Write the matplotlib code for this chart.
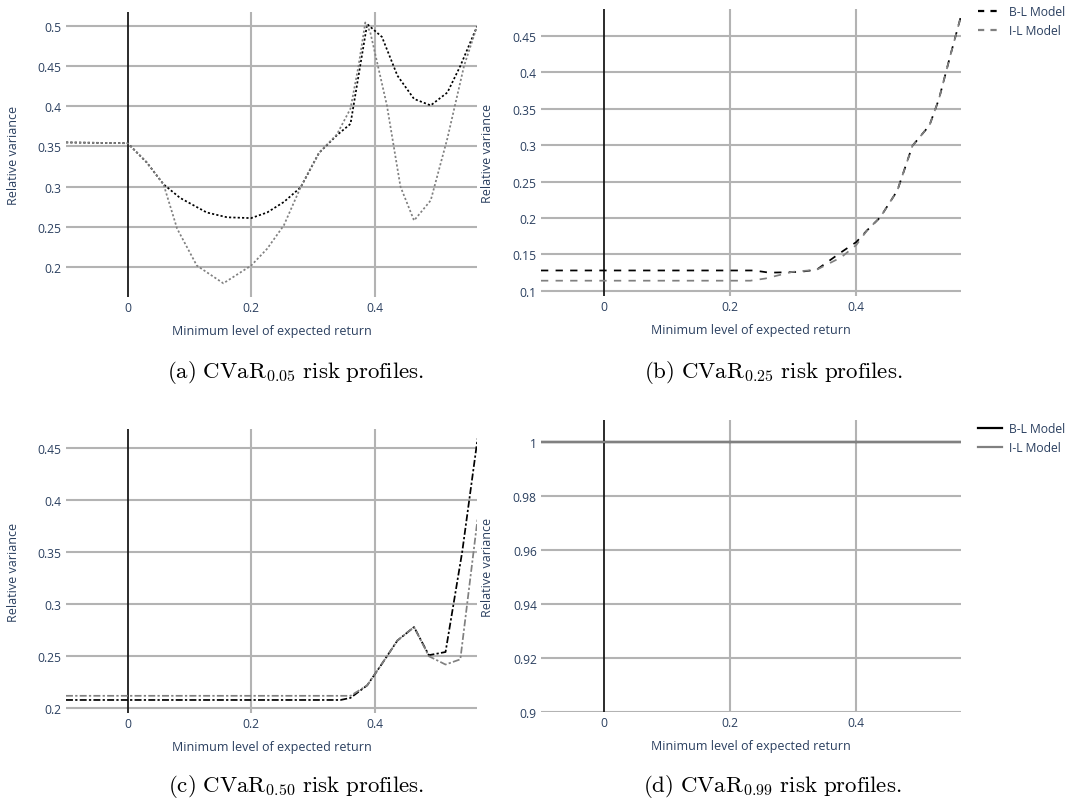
import matplotlib
matplotlib.use("Agg")
import matplotlib.pyplot as plt
from matplotlib.lines import Line2D
from matplotlib.ticker import FuncFormatter

# ---------------- data ----------------
# (a) CVaR 0.05
bl_a_x = [-0.1, 0.0, 0.031, 0.058, 0.085, 0.128, 0.161, 0.2, 0.226, 0.253, 0.28, 0.31, 0.339, 0.361, 0.388, 0.412, 0.437, 0.464, 0.491, 0.518, 0.539, 0.566]
bl_a_y = [0.355, 0.354, 0.33, 0.303, 0.286, 0.268, 0.262, 0.261, 0.268, 0.281, 0.299, 0.342, 0.364, 0.378, 0.502, 0.486, 0.438, 0.409, 0.401, 0.417, 0.45, 0.499]
il_a_x = [-0.1, 0.0, 0.031, 0.058, 0.08, 0.112, 0.155, 0.2, 0.226, 0.253, 0.28, 0.31, 0.339, 0.361, 0.374, 0.385, 0.393, 0.42, 0.442, 0.464, 0.491, 0.518, 0.545, 0.566]
il_a_y = [0.355, 0.354, 0.33, 0.303, 0.248, 0.202, 0.18, 0.202, 0.223, 0.252, 0.299, 0.342, 0.365, 0.397, 0.45, 0.504, 0.492, 0.401, 0.3, 0.258, 0.283, 0.36, 0.45, 0.499]

# (b) CVaR 0.25
bl_b_x = [-0.1, 0.238, 0.262, 0.31, 0.337, 0.376, 0.4, 0.417, 0.438, 0.465, 0.489, 0.516, 0.531, 0.549, 0.566]
bl_b_y = [0.128, 0.128, 0.125, 0.126, 0.129, 0.153, 0.167, 0.183, 0.201, 0.2375, 0.299, 0.327, 0.363, 0.4226, 0.477]
il_b_x = [-0.1, 0.232, 0.256, 0.298, 0.337, 0.376, 0.4, 0.417, 0.438, 0.465, 0.489, 0.516, 0.531, 0.549, 0.566]
il_b_y = [0.114, 0.114, 0.117, 0.126, 0.129, 0.146, 0.163, 0.183, 0.201, 0.2375, 0.299, 0.327, 0.363, 0.4226, 0.477]

# (c) CVaR 0.50
bl_c_x = [-0.1, 0.345, 0.361, 0.388, 0.41, 0.437, 0.464, 0.488, 0.515, 0.542, 0.567]
bl_c_y = [0.208, 0.208, 0.21, 0.222, 0.241, 0.265, 0.278, 0.251, 0.254, 0.35, 0.459]
il_c_x = [-0.1, 0.361, 0.388, 0.41, 0.437, 0.464, 0.488, 0.515, 0.539, 0.567]
il_c_y = [0.212, 0.212, 0.222, 0.241, 0.265, 0.278, 0.25, 0.242, 0.247, 0.382]

# (d) CVaR 0.99
bl_d_x = [-0.1, 0.566]
bl_d_y = [1.0, 1.0]
il_d_x = [-0.1, 0.566]
il_d_y = [1.0, 1.0]

series_names = ["B-L Model", "I-L Model"]
x_ticks = [0, 0.2, 0.4]
y_ticks_a = [0.2, 0.25, 0.3, 0.35, 0.4, 0.45, 0.5]
y_ticks_b = [0.1, 0.15, 0.2, 0.25, 0.3, 0.35, 0.4, 0.45]
y_ticks_c = [0.2, 0.25, 0.3, 0.35, 0.4, 0.45]
y_ticks_d = [0.9, 0.92, 0.94, 0.96, 0.98, 1.0]
captions = [r"$\mathrm{(a)\ CVaR}_{0.05}\mathrm{\ risk\ profiles.}$",
            r"$\mathrm{(b)\ CVaR}_{0.25}\mathrm{\ risk\ profiles.}$",
            r"$\mathrm{(c)\ CVaR}_{0.50}\mathrm{\ risk\ profiles.}$",
            r"$\mathrm{(d)\ CVaR}_{0.99}\mathrm{\ risk\ profiles.}$"]
x_title = "Minimum level of expected return"
y_title = "Relative variance"

# ---------------- style ----------------
plt.rcParams['font.family'] = ['Open Sans', 'DejaVu Sans']
plt.rcParams['mathtext.fontset'] = 'cm'
TXT = '#2a3f5f'
GRID = '#b3b3b3'
BLACK = '#000000'
GREY = '#808080'
LW = 1.25

W, H = 1071, 812
fig = plt.figure(figsize=(W / 100, H / 100), dpi=100)


def make_ax(l, r, t, b):
    return fig.add_axes([l / W, 1 - b / H, (r - l) / W, (b - t) / H])


def style(ax, ylim, yticks):
    ax.set_xlim(-0.1, 0.566)
    ax.set_ylim(*ylim)
    ax.set_xticks(x_ticks)
    ax.set_yticks(yticks)
    ax.xaxis.set_major_formatter(FuncFormatter(lambda v, p: "%g" % round(v, 4)))
    ax.yaxis.set_major_formatter(FuncFormatter(lambda v, p: "%g" % round(v, 4)))
    for s in ax.spines.values():
        s.set_visible(False)
    ax.tick_params(length=0, labelsize=8.7, labelcolor=TXT, pad=3)
    ax.set_axisbelow(True)
    for xv in x_ticks:
        if xv == 0:
            ax.axvline(0, color='#1a1a1a', lw=1.3, zorder=1.5)
        else:
            ax.axvline(xv, color=GRID, lw=1.5, zorder=0.5)
    for yv in yticks:
        ax.axhline(yv, color=GRID, lw=1.5, zorder=0.5)
    ax.set_xlabel(x_title, fontsize=9, color=TXT)
    ax.set_ylabel(y_title, fontsize=9, color=TXT)


dot = (1.25, 1.25)
dash = (4.2, 4.2)
dashdot = (4.0, 1.3, 1.3, 1.3)

# (a)
axa = make_ax(66, 477, 13, 298)
axa.plot(bl_a_x, bl_a_y, color=BLACK, lw=LW, dashes=dot, zorder=3)
axa.plot(il_a_x, il_a_y, color=GREY, lw=LW, dashes=dot, zorder=3)
style(axa, (0.163, 0.517), y_ticks_a)

# (b)
axb = make_ax(541, 961, 10, 297)
axb.plot(bl_b_x, bl_b_y, color=BLACK, lw=LW, dashes=dash, zorder=3)
axb.plot(il_b_x, il_b_y, color=GREY, lw=LW, dashes=dash, zorder=3)
style(axb, (0.093, 0.4866), y_ticks_b)

# (c)
axc = make_ax(66, 477, 430, 714)
axc.plot(bl_c_x, bl_c_y, color=BLACK, lw=LW, dashes=dashdot, zorder=3)
axc.plot(il_c_x, il_c_y, color=GREY, lw=LW, dashes=dashdot, zorder=3)
style(axc, (0.1955, 0.468), y_ticks_c)

# (d)
axd = make_ax(541, 961, 421, 713)
axd.plot(bl_d_x, bl_d_y, color=BLACK, lw=1.6, zorder=3)
axd.plot(il_d_x, il_d_y, color=GREY, lw=1.6, zorder=3)
style(axd, (0.9, 1.0083), y_ticks_d)

for ax, ylx in ((axa, 14), (axc, 14), (axb, 487.5), (axd, 487.5)):
    pos = ax.get_position()
    l = pos.x0 * W
    wpx = pos.width * W
    hpx = pos.height * H
    ax.yaxis.set_label_coords((ylx - l) / wpx, 0.5)
    ax.yaxis.label.set_va('center')
    ax.xaxis.set_label_coords(0.5, -33.5 / hpx)
    ax.xaxis.label.set_va('center')

# legends
for ax, top, ls in ((axb, 6.5, dash), (axd, 423.5, None)):
    if ls is None:
        handles = [Line2D([], [], color=BLACK, lw=1.6), Line2D([], [], color=GREY, lw=1.6)]
    else:
        handles = [Line2D([], [], color=BLACK, lw=1.6, dashes=(2.8, 2.8)),
                   Line2D([], [], color=GREY, lw=1.6, dashes=(2.8, 2.8))]
    leg = fig.legend(handles, series_names, loc='upper left',
                     bbox_to_anchor=(978 / W, 1 - top / H), frameon=False,
                     borderpad=0, borderaxespad=0, handlelength=2.0,
                     handletextpad=0.6, labelspacing=0.45, fontsize=8.7)
    for t in leg.get_texts():
        t.set_color(TXT)

# captions
for (cx, cy), cap in zip([(296, 373), (773, 373), (296, 787), (772, 787)], captions):
    fig.text(cx / W, 1 - cy / H, cap, ha='center', va='center', fontsize=16.5, color='black')

fig.savefig("out.png", dpi=100, facecolor='white')
